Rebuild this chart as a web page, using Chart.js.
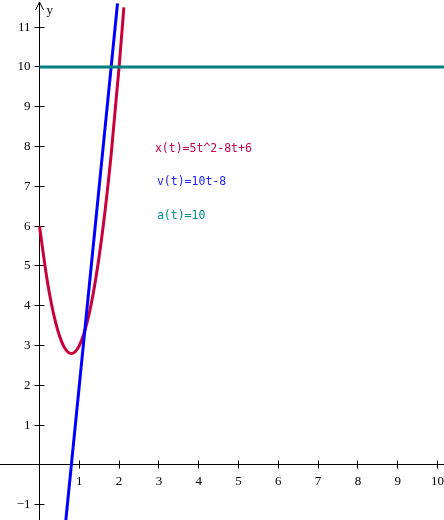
<!DOCTYPE html>
<html>
<head>
<meta charset="utf-8">
<script src="https://cdn.jsdelivr.net/npm/chart.js@4/dist/chart.umd.min.js"></script>
<style>
  html, body { margin: 0; padding: 0; background: #fff; }
  canvas { display: block; }
</style>
</head>
<body>
<canvas id="graph" width="444" height="520"></canvas>
<script>
// values
const tPos = [0, 0.2, 0.4, 0.6, 0.8, 1.0, 1.2, 1.4, 1.6, 1.8, 2.0, 2.12];
const posVals = [6.0, 4.6, 3.6, 3.0, 2.8, 3.0, 3.6, 4.6, 6.0, 7.8, 10.0, 11.5];
const tVel = [0.66, 1.96];
const velVals = [-1.4, 11.6];
const tAcc = [0, 10.2];
const accVals = [10, 10];

const xTicks = [1, 2, 3, 4, 5, 6, 7, 8, 9, 10];
const yTicks = [-1, 1, 2, 3, 4, 5, 6, 7, 8, 9, 10, 11];

const labels = ['x(t)=5t^2-8t+6', 'v(t)=10t-8', 'a(t)=10'];
const labelPosX = [2.9, 2.95, 2.95];
const labelPosY = [7.94, 7.11, 6.26];
const labelColors = ['#c8004a', '#2222ff', '#00908c'];

function pts(xs, ys) {
    return xs.map((x, i) => ({ x: x, y: ys[i] }));
}

// axes through the origin, drawn from the chart's scales
const axesPlugin = {
    id: 'axes',
    beforeDatasetsDraw(chart) {
        const ctx = chart.ctx;
        const sx = chart.scales.x, sy = chart.scales.y;
        const ox = Math.floor(sx.getPixelForValue(0)) + 0.5;
        const oy = Math.floor(sy.getPixelForValue(0)) + 0.5;
        ctx.save();
        ctx.strokeStyle = '#000';
        ctx.lineWidth = 1;
        ctx.beginPath();
        ctx.moveTo(0, oy); ctx.lineTo(chart.width, oy);
        ctx.moveTo(ox, 2); ctx.lineTo(ox, chart.height);
        // arrow
        ctx.moveTo(ox - 4, 10); ctx.lineTo(ox, 2); ctx.lineTo(ox + 4, 10);
        xTicks.forEach(v => {
            const px = Math.floor(sx.getPixelForValue(v)) + 0.5;
            ctx.moveTo(px, oy - 4); ctx.lineTo(px, oy + 4);
        });
        yTicks.forEach(v => {
            const py = Math.floor(sy.getPixelForValue(v)) + 0.5;
            ctx.moveTo(ox - 5, py); ctx.lineTo(ox + 5, py);
        });
        ctx.stroke();

        ctx.fillStyle = '#000';
        ctx.font = '13px "Liberation Serif", "Times New Roman", serif';
        ctx.textAlign = 'center';
        ctx.textBaseline = 'middle';
        xTicks.forEach(v => {
            ctx.fillText(String(v), sx.getPixelForValue(v), oy + 17);
        });
        ctx.textAlign = 'right';
        yTicks.forEach(v => {
            ctx.fillText(v < 0 ? '\u2212' + (-v) : String(v), ox - 9, sy.getPixelForValue(v));
        });
        ctx.textAlign = 'left';
        ctx.fillText('y', ox + 7, 11);
        ctx.restore();
    },
    afterDatasetsDraw(chart) {
        const ctx = chart.ctx;
        const sx = chart.scales.x, sy = chart.scales.y;
        ctx.save();
        ctx.font = '11.5px "DejaVu Sans Mono", monospace';
        ctx.textAlign = 'left';
        ctx.textBaseline = 'middle';
        labels.forEach((t, i) => {
            ctx.fillStyle = labelColors[i];
            ctx.fillText(t, sx.getPixelForValue(labelPosX[i]), sy.getPixelForValue(labelPosY[i]));
        });
        ctx.restore();
    }
};

new Chart(document.getElementById('graph'), {
    type: 'line',
    data: {
        datasets: [
            {
                label: 'a(t)',
                data: pts(tAcc, accVals),
                borderColor: '#008080',
                borderWidth: 3,
                pointRadius: 0
            },
            {
                label: 'v(t)',
                data: pts(tVel, velVals),
                borderColor: '#0000ff',
                borderWidth: 3,
                pointRadius: 0
            },
            {
                label: 'x(t)',
                data: pts(tPos, posVals),
                borderColor: '#c8003c',
                borderWidth: 3,
                pointRadius: 0,
                cubicInterpolationMode: 'monotone'
            }
        ]
    },
    options: {
        responsive: false,
        animation: false,
        events: [],
        layout: { padding: 0 },
        plugins: {
            legend: { display: false },
            tooltip: { enabled: false }
        },
        scales: {
            x: { type: 'linear', min: -0.9925, max: 10.163, display: false },
            y: { type: 'linear', min: -1.382, max: 11.683, display: false }
        }
    },
    plugins: [axesPlugin]
});
</script>
</body>
</html>
